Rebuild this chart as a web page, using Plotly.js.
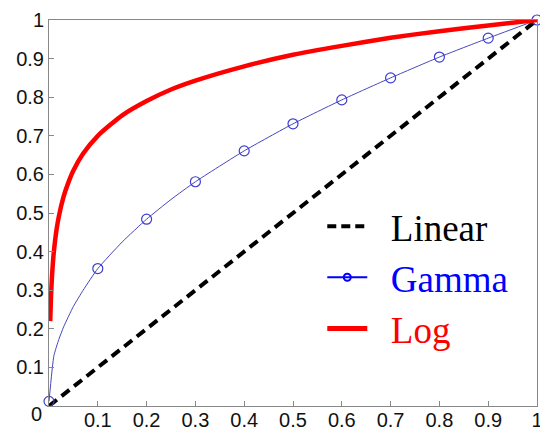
<!DOCTYPE html>
<html>
<head>
<meta charset="utf-8">
<script src="https://cdn.plot.ly/plotly-3.0.1.min.js"></script>
<style>html,body{margin:0;padding:0;background:#fff;}#chart{width:540px;height:427px;}</style>
</head>
<body>
<div id="chart"></div>
<script>
// Linear reference line
const linearX = [0, 1];
const linearY = [0, 1];

// Gamma curve (line samples)
const gammaLineX = [0, 0.01, 0.02, 0.03, 0.05, 0.07, 0.1, 0.15, 0.2, 0.25, 0.3, 0.4, 0.5, 0.6, 0.7, 0.8, 0.9, 1];
const gammaLineY = [0.012, 0.13, 0.172, 0.205, 0.258, 0.3, 0.356, 0.425, 0.484, 0.535, 0.581, 0.661, 0.731, 0.793, 0.85, 0.904, 0.953, 1];
// Gamma markers
const gammaMarkX = [0, 0.1, 0.2, 0.3, 0.4, 0.5, 0.6, 0.7, 0.8, 0.9, 1];
const gammaMarkY = [0.012, 0.356, 0.484, 0.581, 0.661, 0.731, 0.793, 0.85, 0.904, 0.953, 1];

// Log curve
const logX = [0.0025, 0.004, 0.006, 0.008, 0.01, 0.015, 0.02, 0.03, 0.04, 0.05, 0.07, 0.1, 0.15, 0.2, 0.25, 0.3, 0.4, 0.5, 0.6, 0.7, 0.8, 0.9, 1];
const logY = [0.22, 0.28, 0.333, 0.371, 0.40, 0.453, 0.49, 0.543, 0.58, 0.61, 0.654, 0.70, 0.753, 0.79, 0.82, 0.843, 0.88, 0.91, 0.933, 0.954, 0.971, 0.986, 1];

// Axis ticks
const xTickVals = [0, 0.1, 0.2, 0.3, 0.4, 0.5, 0.6, 0.7, 0.8, 0.9, 1];
const xTickText = ['', '0.1', '0.2', '0.3', '0.4', '0.5', '0.6', '0.7', '0.8', '0.9', '1'];
const yTickVals = [0, 0.1, 0.2, 0.3, 0.4, 0.5, 0.6, 0.7, 0.8, 0.9, 1];
const yTickText = ['', '0.1', '0.2', '0.3', '0.4', '0.5', '0.6', '0.7', '0.8', '0.9', '1'];

const traces = [
  {x: linearX, y: linearY, mode: 'lines', showlegend: false,
   line: {color: '#000', width: 4, dash: '10px,6px'}, cliponaxis: false},
  {x: gammaLineX, y: gammaLineY, mode: 'lines', showlegend: false,
   line: {color: 'rgb(70,70,190)', width: 1, shape: 'spline', smoothing: 0.5}},
  {x: gammaMarkX, y: gammaMarkY, mode: 'markers', showlegend: false, cliponaxis: false,
   marker: {symbol: 'circle-open', size: 10, color: 'rgb(60,60,210)', line: {width: 1.2, color: 'rgb(60,60,210)'}}},
  {x: logX, y: logY, mode: 'lines', showlegend: false,
   line: {color: '#ff0000', width: 4.5, shape: 'spline', smoothing: 0.6}},
  // legend entries
  {x: [null], y: [null], mode: 'lines', name: '<span style="color:#000">\u00a0\u00a0Linear</span>',
   line: {color: '#000', width: 4, dash: '9px,5px'}},
  {x: [null], y: [null], mode: 'lines+markers', name: '<span style="color:#0000ff">\u00a0\u00a0Gamma</span>',
   line: {color: '#0000ff', width: 2}, marker: {symbol: 'circle-open', size: 7, color: '#0000ff', line: {width: 2, color: '#0000ff'}}},
  {x: [null], y: [null], mode: 'lines', name: '<span style="color:#ff0000">\u00a0\u00a0Log</span>',
   line: {color: '#ff0000', width: 5}}
];

const axisCommon = {
  showgrid: false, zeroline: false, showline: true, mirror: true,
  linecolor: '#888', linewidth: 1, ticks: 'inside', ticklen: 5, tickcolor: '#888',
  ticklabeloverflow: 'allow',
  tickfont: {family: 'Liberation Sans, Arial, sans-serif', size: 20, color: '#111'}
};

const layout = {
  width: 540, height: 427,
  margin: {l: 49, r: 3, t: 20, b: 21, pad: 0},
  paper_bgcolor: '#fff', plot_bgcolor: '#fff',
  xaxis: Object.assign({}, axisCommon, {range: [0, 1], tickvals: xTickVals, ticktext: xTickText, ticklabelstandoff: -4}),
  yaxis: Object.assign({}, axisCommon, {range: [0, 1], tickvals: yTickVals, ticktext: yTickText}),
  legend: {x: 0.56, y: 0.545, xanchor: 'left', yanchor: 'top', bgcolor: 'rgba(0,0,0,0)',
           font: {family: 'Liberation Serif, Times New Roman, serif', size: 37, color: '#000'},
           itemwidth: 40, tracegroupgap: 0},
  annotations: [{xref: 'paper', yref: 'paper', x: 0, y: 0, xanchor: 'right', yanchor: 'middle',
                 xshift: -5, yshift: -8, showarrow: false, text: '0',
                 font: {family: 'Liberation Sans, Arial, sans-serif', size: 20, color: '#111'}}]
};

Plotly.newPlot('chart', traces, layout, {displayModeBar: false, staticPlot: true});
</script>
</body>
</html>
